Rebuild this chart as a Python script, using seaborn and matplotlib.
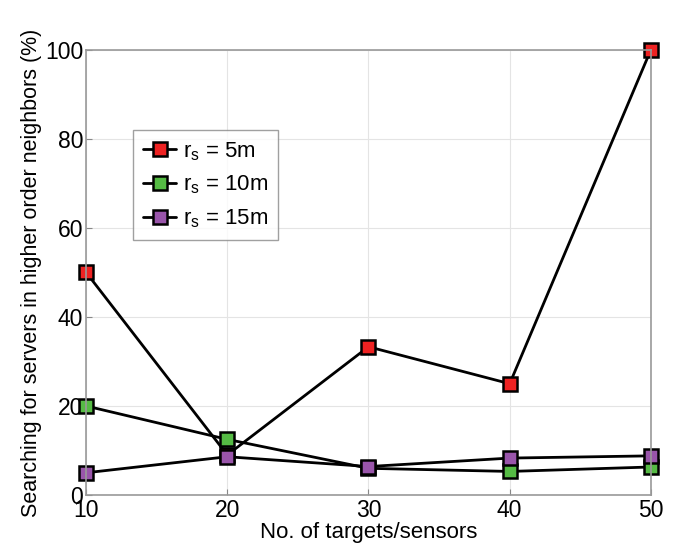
import seaborn as sns
import pandas as pd
import matplotlib
matplotlib.use('Agg')
import matplotlib.pyplot as plt

# data
targets = [10, 20, 30, 40, 50]
rs_5m = [50, 9, 33.3, 25, 100]
rs_10m = [20, 12.5, 6, 5.3, 6.3]
rs_15m = [5, 8.6, 6.4, 8.3, 8.8]
labels = [r'r$_\mathregular{s}$ = 5m', r'r$_\mathregular{s}$ = 10m', r'r$_\mathregular{s}$ = 15m']
colors = ['#ee2222', '#55bb44', '#9955aa']

df = pd.DataFrame({
    'targets': targets * 3,
    'value': rs_5m + rs_10m + rs_15m,
    'series': [labels[0]] * 5 + [labels[1]] * 5 + [labels[2]] * 5,
})

sns.set_style('ticks')
plt.rcParams['font.family'] = ['Liberation Sans', 'DejaVu Sans']
plt.rcParams['mathtext.fontset'] = 'custom'
plt.rcParams['mathtext.rm'] = 'Liberation Sans'
plt.rcParams['text.color'] = 'black'
plt.rcParams['axes.labelcolor'] = 'black'
plt.rcParams['xtick.color'] = 'black'
plt.rcParams['ytick.color'] = 'black'

fig, ax = plt.subplots(figsize=(6.78, 5.47), dpi=100)
fig.subplots_adjust(left=0.127, right=0.96, top=0.909, bottom=0.095)

for lab, col in zip(labels, colors):
    d = df[df['series'] == lab]
    sns.lineplot(
        x='targets', y='value', data=d, ax=ax,
        color='black', linewidth=2,
        marker='s', markersize=10,
        markerfacecolor=col, markeredgecolor='black', markeredgewidth=1.8,
        label=lab,
    )

ax.set_xlim(10, 50)
ax.set_ylim(0, 100)
ax.set_xticks([10, 20, 30, 40, 50])
ax.set_yticks([0, 20, 40, 60, 80, 100])
ax.grid(True, color='#e4e4e4', linewidth=0.8)
ax.tick_params(direction='in', labelsize=16.5, color='#888888', length=4)
ax.tick_params(axis='y', pad=2)
ax.tick_params(axis='x', pad=3)
for s in ax.spines.values():
    s.set_color('#999999')
    s.set_linewidth(1.2)
    s.set_visible(True)
for m in ax.lines:
    m.set_clip_on(False)

ax.set_xlabel('No. of targets/sensors', fontsize=16, labelpad=0)
ax.set_ylabel('Searching for servers in higher order neighbors (%)', fontsize=15.5, labelpad=2)

leg = ax.legend(loc='upper left', bbox_to_anchor=(0.083, 0.82), borderaxespad=0,
                fontsize=16, frameon=True, fancybox=False, edgecolor='#888888',
                handlelength=1.5, handletextpad=0.3, borderpad=0.45, labelspacing=0.5,
                markerscale=1.05)
leg.get_frame().set_linewidth(1)
for t in leg.get_texts():
    t.set_color('black')

fig.savefig('out.png', dpi=100)
